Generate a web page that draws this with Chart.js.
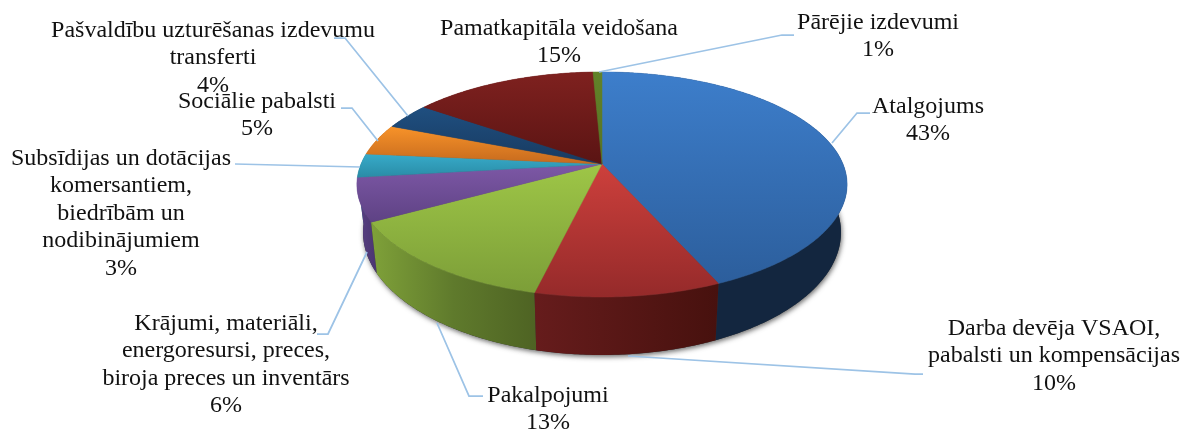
<!DOCTYPE html>
<html>
<head>
<meta charset="utf-8">
<title>Izdevumu struktūra</title>
<script src="https://cdn.jsdelivr.net/npm/chart.js@4"></script>
<style>
  html, body { margin: 0; padding: 0; background: #fff; }
  canvas { display: block; }
</style>
</head>
<body>
<canvas id="chart" width="1182" height="430"></canvas>
<script>
// categories, one entry per text line of the label
const categories = [
    ["Atalgojums"],
    ["Darba devēja VSAOI,", "pabalsti un kompensācijas"],
    ["Pakalpojumi"],
    ["Krājumi, materiāli,", "energoresursi, preces,", "biroja preces un inventārs"],
    ["Subsīdijas un dotācijas", "komersantiem,", "biedrībām un", "nodibinājumiem"],
    ["Sociālie pabalsti"],
    ["Pašvaldību uzturēšanas izdevumu", "transferti"],
    ["Pamatkapitāla veidošana"],
    ["Pārējie izdevumi"],
];
// shares in % (labels show them rounded)
const shares = [43.4, 10.3, 13.2, 6.2, 3.4, 4.5, 3.8, 14.5, 0.7];

// slice colours: top face [top, bottom], side wall stops left to right
const faceColors = [
    ["#3d7ecb", "#2c5e9c"],
    ["#cd403c", "#952a2a"],
    ["#9ec647", "#7c9e38"],
    ["#7d58a6", "#5e4284"],
    ["#37abca", "#2a8ca6"],
    ["#f89329", "#c66a1e"],
    ["#1f4f80", "#183a60"],
    ["#7f211f", "#5a1413"],
    ["#628229", "#577324"],
];
const wallColors = [
    ["#13263f", "#13263f"],
    ["#661c1c", "#47110e"],
    ["#7fa139", "#5f7a2c", "#4e6323"],
    ["#5a4184", "#4a3570"],
    ["#24778e", "#1d6173"],
    ["#a5581a", "#8c4a15"],
    ["#14304f", "#102842"],
    ["#4e1110", "#400e0d"],
    ["#4a611e", "#3f5219"],
];

// label placement: centre x, first baseline y, leader line points
const labelLayout = [
    { x: 928, y: 113, leader: [[870, 113], [857, 113], [832, 143]] },
    { x: 1054, y: 335, leader: [[923, 374], [915, 374], [628, 356]] },
    { x: 548, y: 402, leader: [[483, 396], [469, 396], [437, 323]] },
    { x: 226, y: 330, leader: [[317, 334], [328, 334], [367, 252]] },
    { x: 121, y: 165, leader: [[235, 164], [360, 167]] },
    { x: 257, y: 108, leader: [[341, 108], [352, 108], [378, 141]] },
    { x: 213, y: 37, leader: [[334, 38], [345, 38], [408, 116]] },
    { x: 559, y: 35, leader: null },
    { x: 878, y: 29, leader: [[794, 35], [782, 35], [599, 72]] },
];

// perspective of the tilted disc
const view = { cx: 602, cy: 164, a: 108.8, b: 241, k: 0.182 };
const floor = { cy: 210, sx: 0.975, sy: 1.09 };

function project(angle, plane) {
    const u = Math.cos(angle);
    const v = -Math.sin(angle);
    const w = 1 / (1 + view.k * v);
    if (plane === "floor") {
        return [view.cx + view.b * u * w * floor.sx, floor.cy - view.a * v * w * floor.sy];
    }
    return [view.cx + view.b * u * w, view.cy - view.a * v * w];
}

function rim(start, end, plane) {
    const pts = [];
    const steps = Math.max(2, Math.ceil((end - start) / 0.01));
    for (let i = 0; i <= steps; i++) {
        pts.push(project(start + (end - start) * i / steps, plane));
    }
    return pts;
}

function tracePath(ctx, pts) {
    ctx.beginPath();
    pts.forEach((p, i) => (i ? ctx.lineTo(p[0], p[1]) : ctx.moveTo(p[0], p[1])));
    ctx.closePath();
}

function extent(pts, idx) {
    const vals = pts.map(p => p[idx]);
    return [Math.min(...vals), Math.max(...vals)];
}

const pie3d = {
    id: "pie3d",
    beforeDatasetsDraw(chart) {
        const ctx = chart.ctx;
        const arcs = chart.getDatasetMeta(0).data;

        // soft shadow under the floor of the pie
        ctx.save();
        ctx.shadowColor = "rgba(60,60,60,0.75)";
        ctx.shadowBlur = 5;
        ctx.shadowOffsetX = 1;
        ctx.shadowOffsetY = 2;
        ctx.fillStyle = "#333";
        tracePath(ctx, rim(0, Math.PI * 2, "floor"));
        ctx.fill();
        ctx.restore();

        // side walls, far slices first
        const order = arcs.map((arc, i) => i).sort((p, q) => {
            const mid = i => (arcs[i].startAngle + arcs[i].endAngle) / 2;
            return Math.sin(mid(p)) - Math.sin(mid(q));
        });
        order.forEach(i => {
            const top = rim(arcs[i].startAngle, arcs[i].endAngle);
            const bottom = rim(arcs[i].startAngle, arcs[i].endAngle, "floor").reverse();
            const pts = top.concat(bottom);
            const [x0, x1] = extent(pts, 0);
            const grad = ctx.createLinearGradient(x0, 0, x1, 0);
            wallColors[i].forEach((c, n) => grad.addColorStop(n / (wallColors[i].length - 1), c));
            tracePath(ctx, pts);
            ctx.fillStyle = grad;
            ctx.fill();
        });

        // top face
        arcs.forEach((arc, i) => {
            const pts = [[view.cx, view.cy]].concat(rim(arc.startAngle, arc.endAngle));
            const [y0, y1] = extent(pts, 1);
            const grad = ctx.createLinearGradient(0, y0, 0, y1);
            grad.addColorStop(0, faceColors[i][0]);
            grad.addColorStop(1, faceColors[i][1]);
            tracePath(ctx, pts);
            ctx.fillStyle = grad;
            ctx.strokeStyle = grad;
            ctx.lineWidth = 0.5;
            ctx.fill();
            ctx.stroke();
        });
        return false;
    },
    afterDraw(chart) {
        const ctx = chart.ctx;
        const lineH = 27.4;
        ctx.save();
        ctx.strokeStyle = "#9dc3e6";
        ctx.lineWidth = 1.75;
        labelLayout.forEach(l => {
            if (!l.leader) return;
            ctx.beginPath();
            l.leader.forEach((p, i) => (i ? ctx.lineTo(p[0], p[1]) : ctx.moveTo(p[0], p[1])));
            ctx.stroke();
        });
        ctx.fillStyle = "#111";
        ctx.font = "24px 'Liberation Serif'";
        ctx.textAlign = "center";
        ctx.textBaseline = "alphabetic";
        categories.forEach((lines, i) => {
            const l = labelLayout[i];
            lines.concat([Math.round(shares[i]) + "%"]).forEach((text, n) => {
                ctx.fillText(text, l.x, l.y + n * lineH);
            });
        });
        ctx.restore();
    }
};

new Chart(document.getElementById("chart"), {
    type: "pie",
    data: {
        labels: categories.map(c => c.join(" ")),
        datasets: [{
            data: shares,
            backgroundColor: faceColors.map(c => c[0]),
            borderWidth: 0,
        }]
    },
    options: {
        responsive: false,
        animation: false,
        plugins: {
            legend: { display: false },
            tooltip: { enabled: false },
        }
    },
    plugins: [pie3d],
});
</script>
</body>
</html>
